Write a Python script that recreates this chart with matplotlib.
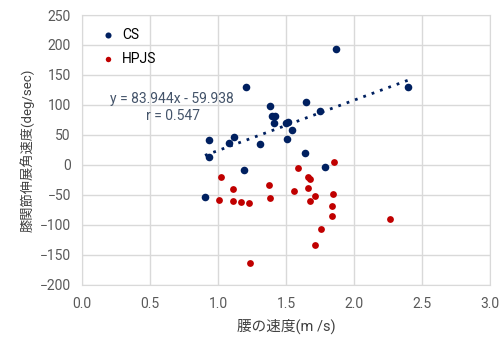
import matplotlib
matplotlib.use('Agg')
import matplotlib.pyplot as plt
import numpy as np

plt.rcParams['font.family'] = ['Roboto', 'Noto Sans CJK JP', 'DejaVu Sans']

# CS group
cs_x = [1.868, 2.40, 1.208, 1.380, 1.649, 1.394, 1.421, 1.414, 1.502, 1.515, 1.546,
        1.505, 1.752, 0.934, 1.115, 1.083, 1.309, 0.936, 1.642, 1.191, 1.789, 0.904]
cs_y = [193.8, 130, 130, 97.8, 105.5, 81, 81, 70, 70.5, 71.7, 57.8,
        43.3, 89.4, 41.7, 47.2, 37.2, 35, 12.8, 20.6, -7.8, -2.8, -53.9]

# HPJS group
hp_x = [1.022, 1.113, 1.005, 1.113, 1.171, 1.228, 1.375, 1.382, 1.233, 1.586, 1.853, 1.659,
        1.679, 1.659, 1.561, 1.711, 1.674, 1.845, 1.840, 1.840, 1.755, 1.711, 2.267]
hp_y = [-19.4, -39.4, -58.9, -60, -61.7, -62.8, -33.3, -55, -163.9, -5.6, 5.6, -19.4,
        -23.9, -37.8, -43.3, -51.7, -60, -47.8, -68.3, -85.6, -106.7, -133.3, -90]

# trendline for CS (as shown on chart)
slope = 83.944
intercept = -59.938
r_value = 0.547

xticks = [0.0, 0.5, 1.0, 1.5, 2.0, 2.5, 3.0]
yticks = [-200, -150, -100, -50, 0, 50, 100, 150, 200, 250]

fig = plt.figure(figsize=(5.01, 3.38), dpi=100)
ax = fig.add_axes([0.1637, 0.157, 0.8143, 0.7986])

ax.scatter(cs_x, cs_y, s=30, c='#002060', label='CS', zorder=3, linewidths=0)
ax.scatter(hp_x, hp_y, s=24, c='#c00000', label='HPJS', zorder=3, linewidths=0)

xs = np.array([min(cs_x), max(cs_x)])
ax.plot(xs, slope * xs + intercept, color='#002060', linestyle=(0, (1, 2.2)),
        linewidth=2, zorder=2)

ax.text(0.66, 110, 'y = %.3fx - %.3f' % (slope, -intercept), ha='center', va='center',
        fontsize=10, color='#44546A')
ax.text(0.67, 82, 'r = %.3f' % r_value, ha='center', va='center',
        fontsize=10, color='#44546A')

ax.set_xlim(0, 3)
ax.set_ylim(-200, 250)
ax.set_xticks(xticks)
ax.set_xticklabels(['%.1f' % t for t in xticks])
ax.set_yticks(yticks)
ax.grid(True, color='#d9d9d9', linewidth=1)
ax.set_axisbelow(True)
for sp in ax.spines.values():
    sp.set_color('#d9d9d9')
ax.tick_params(length=0, labelsize=10, labelcolor='#595959')
ax.tick_params(axis='x', pad=9)
ax.tick_params(axis='y', pad=8)

ax.set_xlabel('腰の速度(m /s)', fontsize=10.5, color='#404040', labelpad=5)
ax.set_ylabel('膝関節伸展角速度(deg/sec)', fontsize=9.5, color='#404040', labelpad=4)

ax.legend(loc='upper left', frameon=False, fontsize=10, handletextpad=0.0,
          labelspacing=0.75, markerscale=0.8, borderaxespad=0.5,
          bbox_to_anchor=(0.0, 1.0))

fig.savefig('out.png', dpi=100)
